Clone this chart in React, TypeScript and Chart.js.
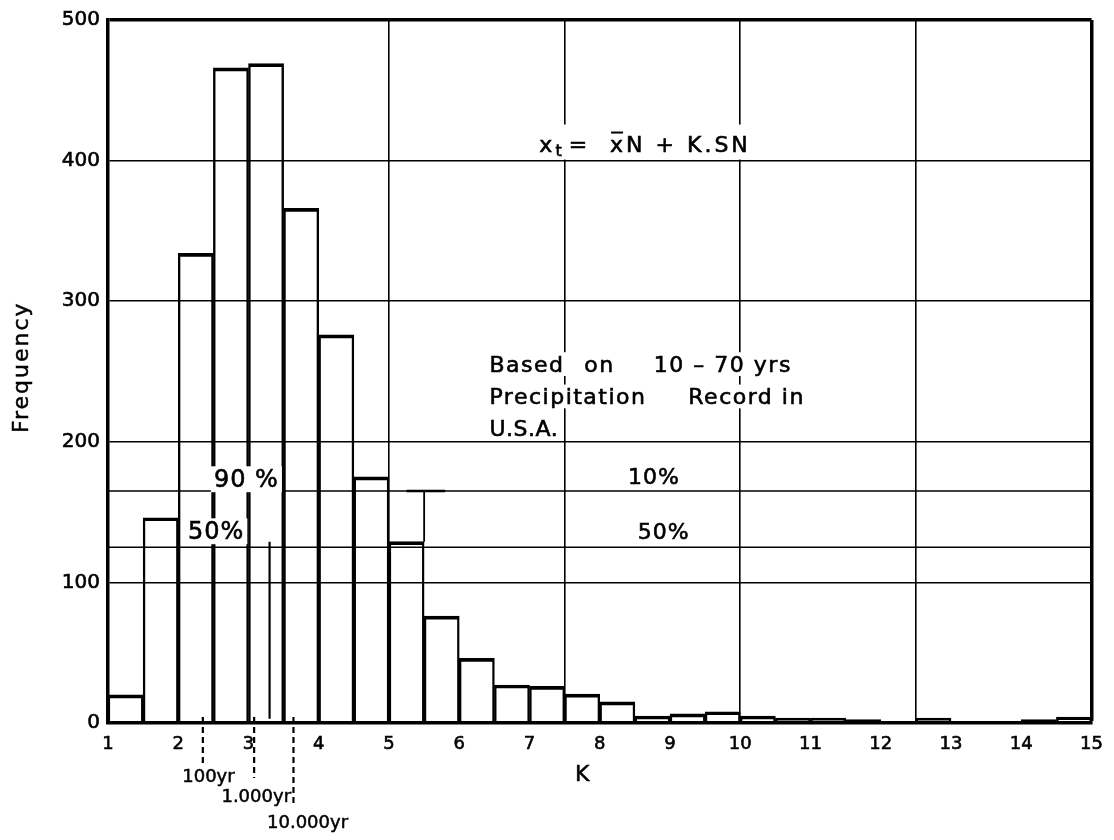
import React, { useEffect, useRef } from 'react';
import { Chart, registerables } from 'chart.js';
Chart.register(...registerables);

// ---- data ----
const binCenters = [1.25, 1.75, 2.25, 2.75, 3.25, 3.75, 4.25, 4.75, 5.25, 5.75, 6.25, 6.75, 7.25, 7.75, 8.25, 8.75, 9.25, 9.75, 10.25, 10.75, 11.25, 11.75, 12.25, 12.75, 13.25, 13.75, 14.25, 14.75];
const frequency = [20, 146, 334, 466, 469, 366, 276, 175, 129, 76, 46, 27, 26, 20.5, 15, 5, 6.5, 8, 5, 3.5, 3.5, 2.5, 0.8, 3.5, 0.3, 0.3, 2.4, 4.2];
const xTickValues = [1, 2, 3, 4, 5, 6, 7, 8, 9, 10, 11, 12, 13, 14, 15];
const gridK = [5, 7.5, 10, 12.5];
const yTickValues = [0, 100, 200, 300, 400, 500];
const level90 = 165;
const level50 = 125;
const markerK = 3.3;
const markerRange = [3, 129];
const tailK = 5.5;
const tailRange = [129, 165];
const returnPeriodK = [2.35, 3.08, 3.64];
const returnPeriodLabels = ['100yr', '1.000yr', '10.000yr'];
const returnLabelK = [2.43, 3.11, 3.84];

const FONT = 'DejaVu Sans';

type Label = { text: string; k: number; v: number; size: number; spacing: number; align: 'left' | 'center'; box: boolean };
const labels: Label[] = [
  { text: 'Based', k: 6.43, v: 254, size: 22, spacing: 1.5, align: 'left', box: true },
  { text: 'on', k: 7.78, v: 254, size: 22, spacing: 1.5, align: 'left', box: true },
  { text: '10 – 70 yrs', k: 8.77, v: 254, size: 22, spacing: 1.5, align: 'left', box: true },
  { text: 'Precipitation', k: 6.43, v: 231, size: 22, spacing: 1.5, align: 'left', box: true },
  { text: 'Record in', k: 9.26, v: 231, size: 22, spacing: 1.5, align: 'left', box: true },
  { text: 'U.S.A.', k: 6.43, v: 208, size: 22, spacing: 0.5, align: 'left', box: true },
  { text: '90 %', k: 2.97, v: 172, size: 24, spacing: 1, align: 'center', box: true },
  { text: '50%', k: 2.54, v: 135, size: 24, spacing: 1, align: 'center', box: true },
  { text: '10%', k: 8.77, v: 174, size: 22, spacing: 1, align: 'center', box: false },
  { text: '50%', k: 8.91, v: 135, size: 22, spacing: 1, align: 'center', box: false },
];

function measure(ctx: CanvasRenderingContext2D, l: Label) {
  ctx.font = `${l.size}px "${FONT}"`;
  (ctx as any).letterSpacing = `${l.spacing}px`;
  return ctx.measureText(l.text).width;
}

const annotations = {
  id: 'annotations',
  afterDatasetDraw(chart: any, args: any) {
    if (args.index !== 0) return;
    const ctx: CanvasRenderingContext2D = chart.ctx;
    const xs = chart.scales.x;
    const ys = chart.scales.y;
    ctx.save();
    ctx.fillStyle = '#fff';
    labels.forEach((l) => {
      if (!l.box) return;
      const w = measure(ctx, l);
      const x = xs.getPixelForValue(l.k);
      const y = ys.getPixelForValue(l.v);
      const left = l.align === 'center' ? x - w / 2 : x;
      ctx.fillRect(left - 3, y - l.size * 0.62, w + 6, l.size * 1.08);
    });
    // formula box
    const fx = xs.getPixelForValue(7.14);
    const fy = ys.getPixelForValue(410);
    ctx.fillRect(fx - 6, fy - 22, 230, 35);
    ctx.restore();
  },
  afterDatasetsDraw(chart: any) {
    const ctx: CanvasRenderingContext2D = chart.ctx;
    const xs = chart.scales.x;
    const ys = chart.scales.y;
    const bottom = chart.chartArea.bottom;
    const px = (k: number) => xs.getPixelForValue(k);
    const py = (v: number) => ys.getPixelForValue(v);

    const put = (t: string, x: number, y: number) => {
      ctx.fillText(t, x, y);
      ctx.strokeText(t, x, y);
    };

    ctx.save();
    ctx.fillStyle = '#000';
    ctx.strokeStyle = '#000';
    ctx.lineWidth = 0.6;
    ctx.textBaseline = 'middle';
    labels.forEach((l) => {
      const w = measure(ctx, l);
      const x = px(l.k);
      const left = l.align === 'center' ? x - w / 2 : x;
      ctx.textAlign = 'left';
      put(l.text, left, py(l.v));
    });

    // formula
    let fx = px(7.14);
    const fy = py(410);
    (ctx as any).letterSpacing = '3px';
    ctx.font = `22px "${FONT}"`;
    put('x', fx, fy);
    fx += ctx.measureText('x').width;
    ctx.font = `16px "${FONT}"`;
    put('t', fx, fy + 5);
    fx += ctx.measureText('t').width + 4;
    ctx.font = `22px "${FONT}"`;
    put('=  ', fx, fy);
    fx += ctx.measureText('=  ').width;
    const wx = ctx.measureText('x').width;
    put('x', fx, fy);
    ctx.lineWidth = 2;
    ctx.beginPath();
    ctx.moveTo(fx + 1, fy - 14);
    ctx.lineTo(fx + wx - 3, fy - 14);
    ctx.stroke();
    ctx.lineWidth = 0.6;
    fx += wx;
    put('N + K.SN', fx, fy);
    ctx.restore();

    // return-period dashed markers below the axis
    const lens = [40, 55, 82];
    const labY = [54, 74, 100];
    ctx.save();
    ctx.strokeStyle = '#000';
    ctx.lineWidth = 2.2;
    ctx.setLineDash([6, 4]);
    returnPeriodK.forEach((k, i) => {
      ctx.beginPath();
      ctx.moveTo(px(k), bottom - 6);
      ctx.lineTo(px(k), bottom + lens[i]);
      ctx.stroke();
    });
    ctx.restore();
    ctx.save();
    ctx.font = `18px "${FONT}"`;
    ctx.fillStyle = '#000';
    ctx.strokeStyle = '#000';
    ctx.lineWidth = 0.5;
    ctx.textAlign = 'center';
    ctx.textBaseline = 'middle';
    returnPeriodLabels.forEach((t, i) => {
      put(t, px(returnLabelK[i]), bottom + labY[i]);
    });
    ctx.restore();

    // axis titles
    ctx.save();
    ctx.fillStyle = '#000';
    ctx.strokeStyle = '#000';
    ctx.lineWidth = 0.5;
    ctx.font = `22px "${FONT}"`;
    ctx.textAlign = 'center';
    ctx.textBaseline = 'middle';
    put('K', px(7.75), bottom + 52);
    (ctx as any).letterSpacing = '2px';
    ctx.translate(22, py(253));
    ctx.rotate(-Math.PI / 2);
    put('Frequency', 0, 0);
    ctx.restore();
  },
};

export default function App() {
  const ref = useRef<HTMLCanvasElement>(null);
  useEffect(() => {
    document.body.style.margin = '0';
    const seg = (pts: { x: number; y: number }[], w: number) => ({
      type: 'line' as const,
      data: pts,
      borderColor: '#000',
      borderWidth: w,
      pointRadius: 0,
      fill: false,
    });
    const chart = new Chart(ref.current!, {
      type: 'bar',
      data: {
        datasets: [
          {
            type: 'bar',
            data: binCenters.map((k, i) => ({ x: k, y: frequency[i] })),
            backgroundColor: 'rgba(0,0,0,0)',
            borderColor: '#000',
            borderWidth: { top: 3, left: 1.75, right: 1.75, bottom: 0 },
            borderSkipped: 'start',
            barPercentage: 1,
            categoryPercentage: 1,
          } as any,
          seg([{ x: 1, y: level90 }, { x: 15, y: level90 }], 1.6),
          seg([{ x: 1, y: level50 }, { x: 15, y: level50 }], 1.6),
          seg([{ x: markerK, y: markerRange[0] }, { x: markerK, y: markerRange[1] }], 2.2),
          seg([{ x: tailK, y: tailRange[0] }, { x: tailK, y: tailRange[1] }], 1.8),
          seg([{ x: 5.25, y: level90 }, { x: 5.8, y: level90 }], 2.6),
        ],
      },
      options: {
        animation: false,
        responsive: true,
        maintainAspectRatio: false,
        layout: { padding: { top: 18, right: 17, bottom: 0, left: 0 } },
        plugins: { legend: { display: false }, tooltip: { enabled: false } },
        scales: {
          x: {
            type: 'linear',
            min: 1,
            max: 15,
            offset: false,
            afterBuildTicks: (s: any) => {
              const vals = [...xTickValues, ...gridK.filter((v) => !xTickValues.includes(v))].sort((a, b) => a - b);
              s.ticks = vals.map((v) => ({ value: v }));
            },
            afterFit: (s: any) => { s.height = 117; },
            ticks: {
              autoSkip: false,
              maxRotation: 0,
              padding: 11,
              color: '#000',
              textStrokeColor: '#000',
              textStrokeWidth: 0.6,
              font: { size: 18, family: FONT },
              callback: (v: any) => (Number.isInteger(v) ? String(v) : ''),
            },
            grid: {
              drawTicks: false,
              offset: false,
              color: (c: any) => (gridK.includes(c.tick?.value) || c.tick?.value === 15 ? '#000' : 'rgba(0,0,0,0)'),
              lineWidth: (c: any) => (c.tick?.value === 15 ? 3.5 : 1.6),
            },
            border: { color: '#000', width: 3.5 },
          },
          y: {
            min: 0,
            max: 500,
            afterBuildTicks: (s: any) => { s.ticks = yTickValues.map((v) => ({ value: v })); },
            afterFit: (s: any) => { s.width = 108; },
            ticks: {
              padding: 8,
              color: '#000',
              textStrokeColor: '#000',
              textStrokeWidth: 0.6,
              font: { size: 20, family: FONT },
            },
            grid: {
              drawTicks: false,
              color: '#000',
              lineWidth: (c: any) => (c.tick?.value === 500 ? 3.5 : 1.6),
            },
            border: { color: '#000', width: 3.5 },
          },
        },
      } as any,
      plugins: [annotations],
    });
    return () => chart.destroy();
  }, []);
  return (
    <div style={{ width: 1114, height: 840, position: 'relative' }}>
      <canvas ref={ref} />
    </div>
  );
}
